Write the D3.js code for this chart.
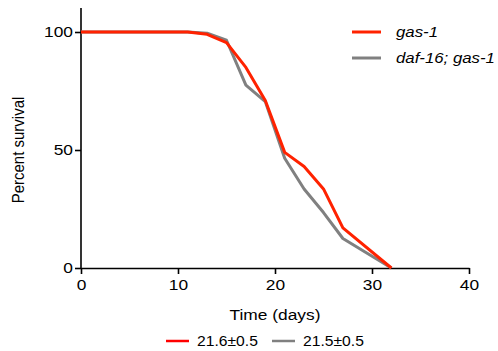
<!DOCTYPE html>
<html>
<head>
<meta charset="utf-8">
<script src="https://cdn.jsdelivr.net/npm/d3@7"></script>
<style>
  body { margin: 0; background: #fff; }
  text { font-family: "Liberation Sans", Arial, sans-serif; }
</style>
</head>
<body>
<div id="container"></div>
<script>
// survival data (days, percent)
var days_gas1 = [0, 11, 13, 15, 17, 19, 21, 23, 25, 27, 32];
var surv_gas1 = [100, 100, 99, 95.5, 85, 71, 49, 43, 33.5, 17, 0];
var days_daf = [0, 11, 13, 15, 17, 19, 21, 23, 25, 27, 32];
var surv_daf = [100, 100, 99.5, 96.5, 77.5, 70.5, 46.5, 33.5, 23.5, 12.5, 0];

var series_names = ["gas-1", "daf-16; gas-1"];
var series_colors = ["#ff2200", "#808080"];
var median_labels = ["21.6±0.5", "21.5±0.5"];
var median_colors = ["#ff0000", "#808080"];

var x_ticks = [0, 10, 20, 30, 40];
var y_ticks = [0, 50, 100];

var width = 498, height = 351;
var margin = {left: 81, right: 29, top: 8, bottom: 83};
var sx = 1.12; // the text in the picture is a bit wider than it is tall

var svg = d3.select("#container")
  .append("svg")
    .attr("width", width)
    .attr("height", height);

var x = d3.scaleLinear().domain([0, 40]).range([margin.left, width - margin.right]);
var y = d3.scaleLinear().domain([0, 100]).range([268, 32]);

// widen glyphs horizontally, keeping the anchor point in place
function stretch(sel) {
  sel.each(function(){
    var t = d3.select(this);
    var xv = +t.attr("x") || 0;
    t.attr("x", xv / sx).attr("transform", "scale(" + sx + ",1)");
  });
}

// axes
var xAxis = svg.append("g")
  .attr("transform", "translate(0," + y(0) + ")")
  .call(d3.axisBottom(x).tickValues(x_ticks).tickSize(6).tickPadding(5).tickSizeOuter(0));
var yAxis = svg.append("g")
  .attr("transform", "translate(" + x(0) + ",0)")
  .call(d3.axisLeft(y).tickValues(y_ticks).tickSize(6).tickPadding(2).tickSizeOuter(0));

[xAxis, yAxis].forEach(function(a){
  a.selectAll("path, line").attr("stroke", "#000").attr("stroke-width", 1.6);
  a.selectAll("text").attr("font-size", "15.5px").attr("fill", "#000")
    .attr("font-family", "Liberation Sans, Arial, sans-serif")
    .call(stretch);
});
// extend y axis line to the top
yAxis.select("path.domain").attr("d", "M0," + y(0) + "V" + margin.top);

// axis titles
svg.append("text")
  .attr("transform", "translate(" + (x(0) + x(40)) / 2 + ",320) scale(" + sx + ",1)")
  .attr("text-anchor", "middle")
  .attr("font-size", "15.5px")
  .text("Time (days)");
svg.append("text")
  .attr("transform", "translate(24," + y(50) + ") scale(" + sx + ",1) rotate(-90)")
  .attr("text-anchor", "middle")
  .attr("font-size", "15px")
  .text("Percent survival");

// lines
var line = d3.line()
  .x(function(d){ return x(d[0]); })
  .y(function(d){ return y(d[1]); });

var series = [
  d3.zip(days_daf, surv_daf),
  d3.zip(days_gas1, surv_gas1)
];
var colorsDrawn = [series_colors[1], series_colors[0]];
series.forEach(function(s, i){
  svg.append("path")
    .datum(s)
    .attr("fill", "none")
    .attr("stroke", colorsDrawn[i])
    .attr("stroke-width", 3)
    .attr("stroke-linejoin", "round")
    .attr("d", line);
});

// legend top right
series_names.forEach(function(name, i){
  var ly = 32 + i * 26;
  svg.append("line")
    .attr("x1", 352).attr("x2", 381)
    .attr("y1", ly).attr("y2", ly)
    .attr("stroke", series_colors[i])
    .attr("stroke-width", 3);
  svg.append("text")
    .attr("transform", "translate(396," + (ly + 5) + ") scale(" + sx + ",1)")
    .attr("font-size", "15px")
    .attr("font-style", "italic")
    .text(name);
});

// median lifespan legend at bottom
var lx = [166, 272];
median_labels.forEach(function(lab, i){
  svg.append("line")
    .attr("x1", lx[i]).attr("x2", lx[i] + 23)
    .attr("y1", 341).attr("y2", 341)
    .attr("stroke", median_colors[i])
    .attr("stroke-width", 2.5);
  svg.append("text")
    .attr("transform", "translate(" + (lx[i] + 31) + ",346) scale(" + sx + ",1)")
    .attr("font-size", "14px")
    .text(lab);
});
</script>
</body>
</html>
